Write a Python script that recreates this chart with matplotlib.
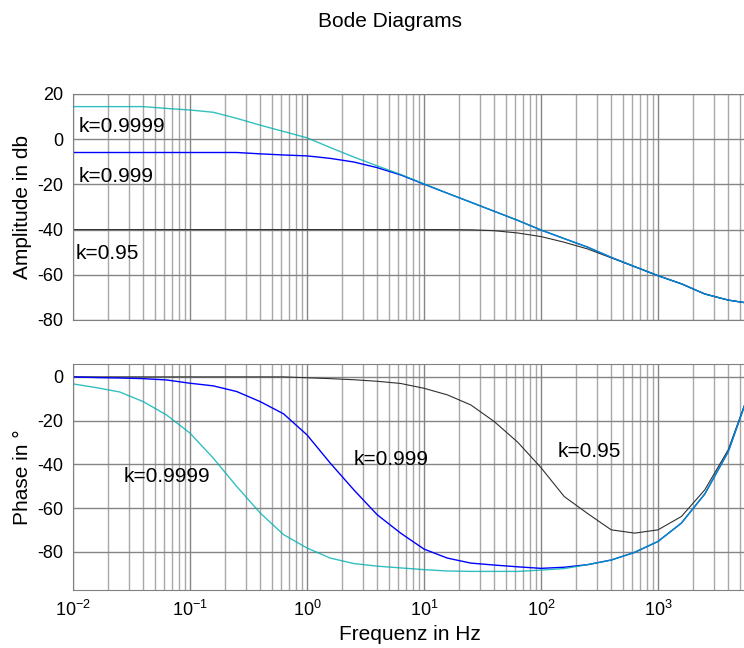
import matplotlib
matplotlib.use('Agg')
import matplotlib.pyplot as plt

plt.rcParams['font.family'] = ['Liberation Sans', 'DejaVu Sans']
plt.rcParams['mathtext.fontset'] = 'custom'
plt.rcParams['mathtext.rm'] = 'Liberation Sans'
plt.rcParams['mathtext.it'] = 'Liberation Sans:italic'
plt.rcParams['mathtext.default'] = 'regular'

# frequency points (Hz), 5 per decade
freq = [0.01, 0.0158, 0.0251, 0.0398, 0.0631, 0.1, 0.158, 0.251, 0.398, 0.631,
        1.0, 1.58, 2.51, 3.98, 6.31, 10.0, 15.8, 25.1, 39.8, 63.1,
        100.0, 158.0, 251.0, 398.0, 631.0, 1000.0, 1585.0, 2512.0, 3981.0, 6310.0]

# amplitude in dB
amp_9999 = [14.4, 14.4, 14.4, 14.4, 13.6, 12.9, 11.9, 9.2, 6.2, 3.4,
            0.6, -3.7, -7.9, -11.8, -15.6, -19.8, -23.9, -27.9, -31.9, -35.9,
            -40.2, -44.0, -47.8, -52.3, -56.4, -60.4, -64.0, -68.5, -71.2, -72.8]
amp_999 = [-5.9, -5.9, -5.9, -5.9, -5.9, -5.9, -5.9, -5.9, -6.5, -7.0,
           -7.4, -8.5, -10.1, -12.6, -15.8, -19.9, -23.9, -27.9, -31.9, -35.9,
           -40.2, -44.0, -47.8, -52.3, -56.4, -60.4, -64.0, -68.5, -71.2, -72.8]
amp_95 = [-40.0, -40.0, -40.0, -40.0, -40.0, -40.0, -40.0, -40.0, -40.0, -40.0,
          -40.0, -40.0, -40.0, -40.0, -40.0, -40.0, -40.0, -40.1, -40.5, -41.5,
          -43.1, -45.6, -48.6, -52.5, -56.4, -60.4, -64.0, -68.5, -71.2, -72.8]

# phase in degrees
ph_9999 = [-3.2, -4.9, -6.9, -11.3, -17.4, -25.7, -37.1, -50.1, -62.2, -72.1,
           -78.2, -82.8, -85.3, -86.5, -87.3, -88.1, -88.7, -88.9, -88.9, -88.9,
           -88.3, -87.6, -85.8, -83.7, -80.2, -75.2, -66.8, -53.5, -34.2, -4.0]
ph_999 = [0.0, -0.3, -0.5, -0.8, -1.4, -2.9, -4.1, -6.7, -11.3, -16.9,
          -26.5, -39.4, -51.6, -63.0, -71.4, -78.7, -82.8, -85.1, -86.0, -86.8,
          -87.5, -87.0, -85.8, -83.7, -80.2, -75.2, -66.8, -53.5, -34.2, -4.0]
ph_95 = [0.0, 0.0, 0.0, 0.0, 0.0, 0.0, 0.0, 0.0, 0.0, 0.0,
         -0.4, -0.8, -1.3, -2.0, -3.0, -5.2, -8.2, -12.8, -20.4, -29.8,
         -41.5, -54.7, -62.5, -69.9, -71.4, -69.9, -63.8, -51.6, -33.3, -4.0]

amp_ticks = [20, 0, -20, -40, -60, -80]
ph_ticks = [0, -20, -40, -60, -80]

fig = plt.figure(figsize=(7.44, 6.48), dpi=100)
ax1 = fig.add_axes([0.0981, 0.5062, 0.9046, 0.3488])
ax2 = fig.add_axes([0.0981, 0.0895, 0.9046, 0.3488])

for ax in (ax1, ax2):
    ax.set_xscale('log')
    ax.set_xlim(0.01, 5650)
    ax.grid(True, which='major', color='#858585', linewidth=1.0)
    ax.grid(True, which='minor', color='#a8a8a8', linewidth=1.0)
    ax.set_axisbelow(True)
    ax.tick_params(which='both', length=0, labelsize=13, pad=7)
    for s in ax.spines.values():
        s.set_color('#808080')

ax1.plot(freq, amp_95, color='#303030', linewidth=0.8)
ax1.plot(freq, amp_999, color='#0000ff', linewidth=1.0)
ax1.plot(freq, amp_9999, color='#00b0b0', linewidth=1.0, alpha=0.8)
ax1.set_ylim(-80, 20)
ax1.set_yticks(amp_ticks)
ax1.set_yticklabels([str(t) for t in amp_ticks])
ax1.tick_params(axis='x', labelbottom=False)
ax1.set_ylabel('Amplitude in db', fontsize=15, labelpad=4)
ax1.text(0.0112, 5.4, 'k=0.9999', fontsize=15, va='center', ha='left')
ax1.text(0.0112, -16.3, 'k=0.999', fontsize=15, va='center', ha='left')
ax1.text(0.0106, -50.8, 'k=0.95', fontsize=15, va='center', ha='left')

ax2.plot(freq, ph_95, color='#303030', linewidth=0.8)
ax2.plot(freq, ph_999, color='#0000ff', linewidth=1.0)
ax2.plot(freq, ph_9999, color='#00b0b0', linewidth=1.0, alpha=0.8)
ax2.set_ylim(-97.4, 5.9)
ax2.set_yticks(ph_ticks)
ax2.set_yticklabels([str(t) for t in ph_ticks])
ax2.set_ylabel('Phase in °', fontsize=15, labelpad=4)
ax2.set_xlabel('Frequenz in Hz', fontsize=15, labelpad=4)
ax2.text(0.0269, -45.3, 'k=0.9999', fontsize=15, va='center', ha='left')
ax2.text(2.49, -37.9, 'k=0.999', fontsize=15, va='center', ha='left')
ax2.text(139.6, -34.1, 'k=0.95', fontsize=15, va='center', ha='left')

fig.text(390 / 744, 1 - 21.5 / 648, 'Bode Diagrams', fontsize=15, ha='center', va='center')

fig.savefig('out.png', dpi=100)
